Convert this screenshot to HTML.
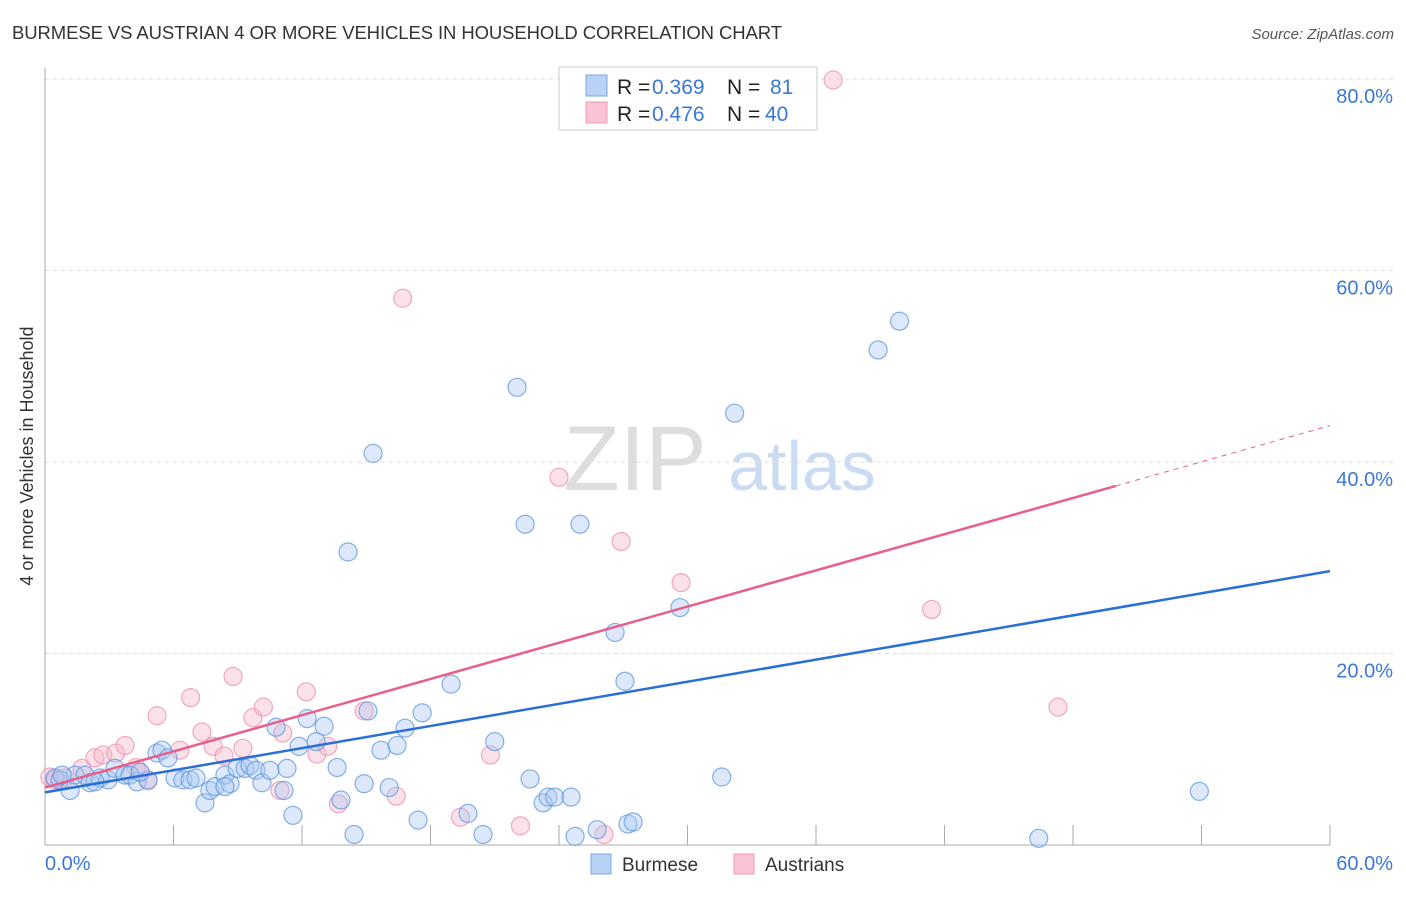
<!DOCTYPE html>
<html><head><meta charset="utf-8"><style>
body{margin:0;background:#fff;font-family:"Liberation Sans",sans-serif}
svg text{font-family:"Liberation Sans",sans-serif}
</style></head><body>
<svg width="1406" height="892">
<text x="12" y="39" font-size="18.5" fill="#333" textLength="770">BURMESE VS AUSTRIAN 4 OR MORE VEHICLES IN HOUSEHOLD CORRELATION CHART</text>
<text x="1394" y="39" font-size="15" fill="#555" font-style="italic" text-anchor="end">Source: ZipAtlas.com</text>
<g><text x="635" y="490" font-size="92" fill="#ddd" font-family="Liberation Serif,serif" text-anchor="middle">ZIP</text><text x="802" y="490" font-size="70" fill="#c9dcf3" text-anchor="middle">atlas</text></g>
<g id="grid"></g><g id="axes"></g><g id="pts"></g><g id="trend"></g>
<text x="33" y="456" font-size="18" fill="#333" text-anchor="middle" transform="rotate(-90 33 456)">4 or more Vehicles in Household</text>
<g>
<rect x="559" y="67" width="258" height="63" fill="#fff" stroke="#ccc"/>
<rect x="586" y="75" width="21" height="21" fill="#b7d2f5" stroke="#7aa8e6"/>
<rect x="586" y="102" width="21" height="21" fill="#f9c4d4" stroke="#f09ab5"/>
<g font-size="21" fill="#222">
<text x="617" y="94">R =</text><text x="652" y="94" fill="#3a78d8">0.369</text><text x="727" y="94">N =</text><text x="770" y="94" fill="#3a78d8">81</text>
<text x="617" y="121">R =</text><text x="652" y="121" fill="#3a78d8">0.476</text><text x="727" y="121">N =</text><text x="765" y="121" fill="#3a78d8">40</text>
</g>
</g>
<g>
<rect x="591" y="854" width="20" height="20" fill="#b7d2f5" stroke="#7aa8e6"/>
<text x="622" y="871" font-size="19" fill="#333">Burmese</text>
<rect x="734" y="854" width="20" height="20" fill="#f9c4d4" stroke="#f09ab5"/>
<text x="765" y="871" font-size="19" fill="#333">Austrians</text>
</g>
</svg>
<script>
const xTicks=[0,6,12,18,24,30,36,42,48,54,60];
const yTicks=[20,40,60,80];
const burmeseX=[0.47,0.7,1.17,1.4,1.87,2.1,2.57,2.94,3.27,3.74,3.97,4.3,4.81,5.23,5.46,5.74,6.07,6.44,6.77,7.05,7.47,7.7,7.94,8.4,8.64,8.97,9.34,9.57,9.85,10.13,10.5,10.79,11.16,11.3,11.58,11.86,12.24,12.66,13.03,13.64,13.82,14.15,14.43,14.9,15.08,15.32,15.69,16.07,16.44,16.81,17.42,17.61,18.96,19.75,20.45,21.0,22.04,22.42,22.65,23.26,23.49,23.8,24.56,24.75,24.98,25.78,26.62,27.08,27.22,27.46,29.65,31.6,32.2,38.9,39.9,46.4,53.9,0.8,2.33,4.44,8.4];
const burmeseY=[7.0,6.8,5.7,7.3,7.3,6.5,7.0,6.8,8.0,7.3,7.3,6.6,6.8,9.6,9.9,9.1,7.0,6.8,6.8,7.0,4.4,5.7,6.1,7.3,6.4,8.0,8.0,8.3,7.8,6.5,7.8,12.3,5.7,8.0,3.1,10.3,13.2,10.8,12.4,8.1,4.7,30.6,1.1,6.4,14.0,40.9,9.9,6.0,10.4,12.2,2.6,13.8,16.8,3.3,1.1,10.8,47.8,33.5,6.9,4.4,5.0,5.0,5.0,0.9,33.5,1.6,22.2,17.1,2.2,2.4,24.8,7.1,45.1,51.7,54.7,0.7,5.6,7.3,6.6,7.6,6.1];
const austrianX=[0.23,0.47,0.93,1.73,2.33,2.7,3.3,3.74,4.25,4.81,5.23,6.3,6.8,7.33,7.85,8.36,8.78,9.24,9.71,10.2,11.1,10.97,12.2,12.7,13.2,13.7,14.9,16.4,16.7,19.4,20.8,22.2,24.0,26.1,26.9,29.7,41.4,47.3,36.8,4.44];
const austrianY=[7.1,6.8,7.0,8.0,9.1,9.4,9.6,10.4,8.1,6.7,13.5,9.9,15.4,11.8,10.3,9.3,17.6,10.1,13.3,14.4,11.7,5.7,16.0,9.5,10.3,4.3,14.0,5.1,57.1,2.9,9.4,2.0,38.4,1.1,31.7,27.4,24.6,14.4,79.9,7.6];
const burmeseTrend=[5.5,28.6];
const austrianTrend=[6.0,43.8];
const austrianSolidEnd=50;
const NS='http://www.w3.org/2000/svg';
const X=v=>45+v/60*1285, Y=v=>845-v/20*191.5;
function mk(t,a,p){const e=document.createElementNS(NS,t);for(const k in a)e.setAttribute(k,a[k]);p.appendChild(e);return e;}
const grid=document.getElementById('grid'),axes=document.getElementById('axes'),pts=document.getElementById('pts'),tr=document.getElementById('trend');
yTicks.forEach(v=>{const l=mk('line',{x1:45,x2:1393,y1:Y(v),y2:Y(v),stroke:'#ddd','stroke-dasharray':'4,4'},grid);


const t=mk('text',{x:1393,y:Y(v)+24,'font-size':20,fill:'#3a78d8','text-anchor':'end'},grid);t.textContent=v.toFixed(1)+'%';

});
const ax=mk('line',{x1:45,x2:45,y1:68,y2:845,stroke:'#aaa'},axes);


const bx=mk('line',{x1:45,x2:1330,y1:845,y2:845,stroke:'#aaa'},axes);


xTicks.forEach(v=>{const l=mk('line',{x1:X(v),x2:X(v),y1:825,y2:845,stroke:'#aaa'},axes);

});
[[0,'start',0],[60,'end',63]].forEach(([v,a,o])=>{const t=mk('text',{x:X(v)+o,y:870,'font-size':20,fill:'#3a78d8','text-anchor':a},axes);t.textContent=v.toFixed(1)+'%';

});
function dots(xs,ys,f,s,n){xs.forEach((x,i)=>{const c=mk('circle',{cx:X(x),cy:Y(ys[i]),r:9,fill:f,'fill-opacity':0.4,stroke:s,'stroke-width':1.2,'stroke-opacity':0.75},pts);

});}
dots(austrianX,austrianY,'#f5b3c8','#ee8eae','austrian-point');
dots(burmeseX,burmeseY,'#a9c9f2','#5d95de','burmese-point');
const bl=mk('line',{x1:X(0),y1:Y(burmeseTrend[0]),x2:X(60),y2:Y(burmeseTrend[1]),stroke:'#2a6fd6','stroke-width':2.5},tr);


const ym=austrianTrend[0]+(austrianTrend[1]-austrianTrend[0])*austrianSolidEnd/60;
const pl=mk('line',{x1:X(0),y1:Y(austrianTrend[0]),x2:X(austrianSolidEnd),y2:Y(ym),stroke:'#e8608a','stroke-width':2.5},tr);


const pd=mk('line',{x1:X(austrianSolidEnd),y1:Y(ym),x2:X(60),y2:Y(austrianTrend[1]),stroke:'#e8608a','stroke-width':1,'stroke-dasharray':'5,5'},tr);


</script>
</body></html>
